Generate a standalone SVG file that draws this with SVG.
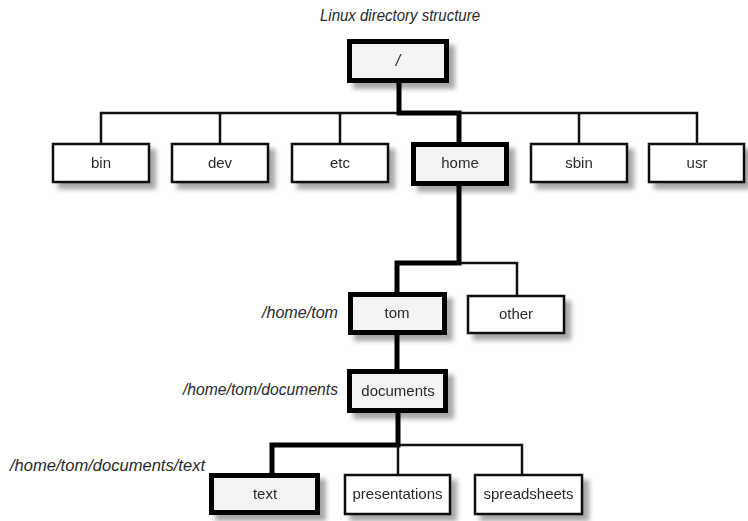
<svg xmlns="http://www.w3.org/2000/svg" width="748" height="521" viewBox="0 0 748 521">
<defs>
<filter id="sh" x="-20%" y="-20%" width="150%" height="160%">
<feGaussianBlur in="SourceAlpha" stdDeviation="2.5"/>
<feOffset dx="6" dy="6" result="b"/>
<feComponentTransfer><feFuncA type="linear" slope="0.35"/></feComponentTransfer>
<feMerge><feMergeNode/><feMergeNode in="SourceGraphic"/></feMerge>
</filter>
</defs>
<style>
.thin{fill:#fff;stroke:#111;stroke-width:2.5}
.thick{fill:#f3f3f3;stroke:#000;stroke-width:5}
.lbl{font-family:"Liberation Sans",Arial,sans-serif;font-size:15px;fill:#2a2a2a;text-anchor:middle}
.it{font-family:"Liberation Sans",Arial,sans-serif;font-size:16px;font-style:italic;fill:#2a2a2a}
.cthin{fill:none;stroke:#111;stroke-width:2.5}
.cthick{fill:none;stroke:#000;stroke-width:5}
</style>
<rect width="748" height="521" fill="#fff"/>
<text class="it" x="320" y="21" textLength="160" lengthAdjust="spacingAndGlyphs">Linux directory structure</text>
<g id="connectors">
<path class="cthin" d="M101,143 V113 H697 V143"/>
<path class="cthin" d="M220,113 V143 M340,113 V143 M579,113 V143"/>
<path class="cthin" d="M459,263 H517 V295"/>
<path class="cthin" d="M398,445 V474 M398,445 H522 V474"/>
<path class="cthick" d="M399,82 V113 H459 V142"/>
<path class="cthick" d="M459,186 V263 H397 V292"/>
<path class="cthick" d="M397,335 V369"/>
<path class="cthick" d="M398,413 V445 H272 V473"/>
</g>
<g id="root" filter="url(#sh)"><rect class="thick" x="349.5" y="41.5" width="97" height="39"/><text class="it" x="398" y="66" text-anchor="middle">/</text></g>
<g id="bin" filter="url(#sh)"><rect class="thin" x="53" y="144" width="96" height="38"/><text class="lbl" x="101" y="168">bin</text></g>
<g id="dev" filter="url(#sh)"><rect class="thin" x="172" y="144" width="96" height="38"/><text class="lbl" x="220" y="168">dev</text></g>
<g id="etc" filter="url(#sh)"><rect class="thin" x="292" y="144" width="96" height="38"/><text class="lbl" x="340" y="168">etc</text></g>
<g id="home" filter="url(#sh)"><rect class="thick" x="413.5" y="144.5" width="93" height="39"/><text class="lbl" x="460" y="168">home</text></g>
<g id="sbin" filter="url(#sh)"><rect class="thin" x="531" y="144" width="96" height="38"/><text class="lbl" x="579" y="168">sbin</text></g>
<g id="usr" filter="url(#sh)"><rect class="thin" x="649" y="144" width="95" height="38"/><text class="lbl" x="697" y="168">usr</text></g>
<g id="tom" filter="url(#sh)"><rect class="thick" x="350.5" y="294.5" width="94" height="38"/><text class="lbl" x="397" y="318">tom</text></g>
<g id="other" filter="url(#sh)"><rect class="thin" x="468" y="296" width="96" height="37"/><text class="lbl" x="516" y="319">other</text></g>
<g id="documents" filter="url(#sh)"><rect class="thick" x="349.5" y="371.5" width="96" height="39"/><text class="lbl" x="398" y="396">documents</text></g>
<g id="text" filter="url(#sh)"><rect class="thick" x="211.5" y="475.5" width="106" height="37"/><text class="lbl" x="265" y="499">text</text></g>
<g id="presentations" filter="url(#sh)"><rect class="thin" x="345" y="475" width="105" height="39"/><text class="lbl" x="397.5" y="499">presentations</text></g>
<g id="spreadsheets" filter="url(#sh)"><rect class="thin" x="475" y="475" width="107" height="39"/><text class="lbl" x="528.5" y="499">spreadsheets</text></g>
<g id="labels">
<text class="it" x="262" y="318" textLength="76" lengthAdjust="spacingAndGlyphs">/home/tom</text>
<text class="it" x="183" y="395" textLength="155" lengthAdjust="spacingAndGlyphs">/home/tom/documents</text>
<text class="it" x="10" y="471" textLength="195" lengthAdjust="spacingAndGlyphs">/home/tom/documents/text</text>
</g>
</svg>
